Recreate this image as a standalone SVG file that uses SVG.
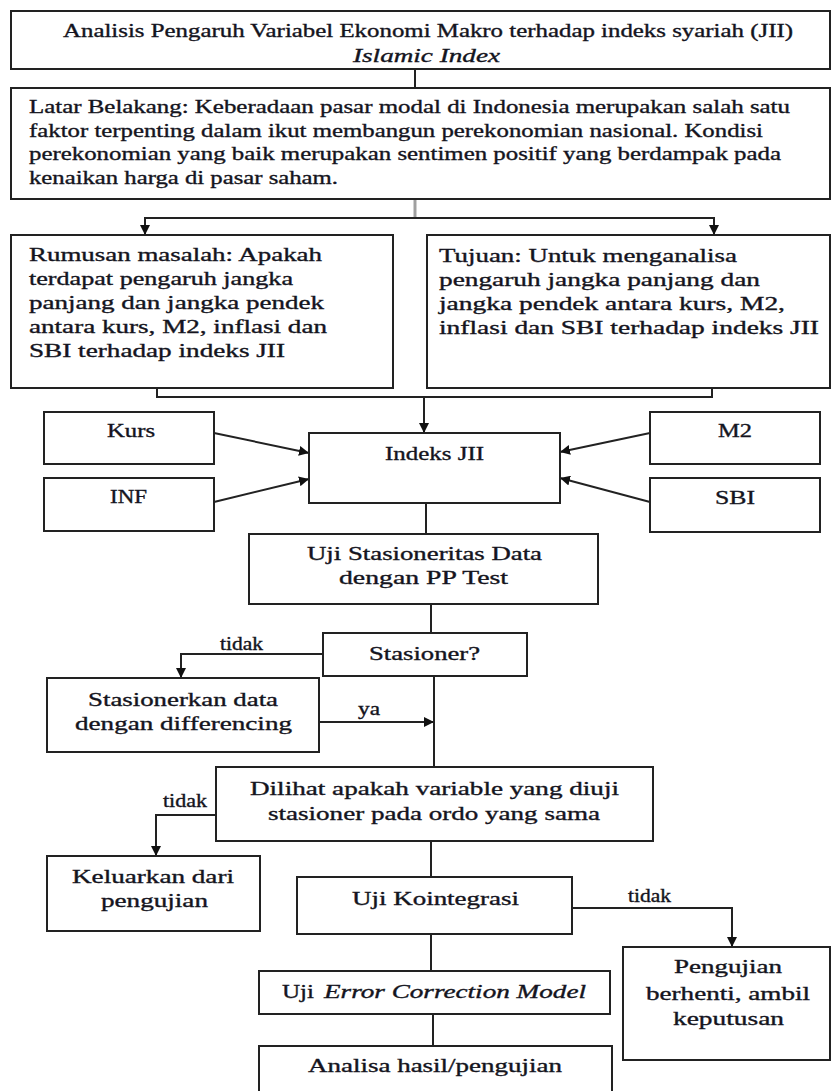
<svg xmlns="http://www.w3.org/2000/svg" width="832" height="1091" viewBox="0 0 832 1091">
<style>
.box{fill:#fff;stroke:#222;stroke-width:2}
.ln{fill:none;stroke:#222;stroke-width:2}
.gray{fill:none;stroke:#a0a0a0;stroke-width:3}
.t{font-family:"Liberation Serif","Times New Roman",serif;font-size:19px;fill:#141420;stroke:#141420;stroke-width:0.35}
.i{font-style:italic}
.s{font-size:18px}
</style>
<defs>
<marker id="ah" markerUnits="userSpaceOnUse" markerWidth="10" markerHeight="10" refX="10" refY="5" orient="auto" viewBox="0 0 10 10">
<path d="M0,0 L10,5 L0,10 z" fill="#111"/>
</marker>
</defs>
<rect width="832" height="1091" fill="#fff"/>
<g id="connectors">
<line class="ln" x1="415" y1="69" x2="415" y2="88"/>
<line class="gray" x1="415" y1="199" x2="415" y2="218"/>
<line class="ln" x1="145" y1="218" x2="714" y2="218"/>
<line class="ln" x1="145" y1="217" x2="145" y2="235" marker-end="url(#ah)"/>
<line class="ln" x1="714" y1="217" x2="714" y2="235" marker-end="url(#ah)"/>
<polyline class="ln" points="157,388 157,397 712,397 712,388"/>
<line class="ln" x1="424" y1="397" x2="424" y2="433" marker-end="url(#ah)"/>
<line class="ln" x1="214" y1="433" x2="309" y2="453" marker-end="url(#ah)"/>
<line class="ln" x1="214" y1="502" x2="309" y2="479" marker-end="url(#ah)"/>
<line class="ln" x1="650" y1="433" x2="560" y2="452" marker-end="url(#ah)"/>
<line class="ln" x1="650" y1="502" x2="560" y2="478" marker-end="url(#ah)"/>
<line class="ln" x1="426" y1="503" x2="426" y2="534"/>
<line class="ln" x1="431" y1="604" x2="431" y2="633"/>
<polyline class="ln" points="323,654 181,654 181,678" marker-end="url(#ah)"/>
<line class="ln" x1="319" y1="722" x2="434" y2="722" marker-end="url(#ah)"/>
<line class="ln" x1="434" y1="676" x2="434" y2="767"/>
<polyline class="ln" points="216,815 156,815 156,856" marker-end="url(#ah)"/>
<line class="ln" x1="431" y1="841" x2="431" y2="877"/>
<polyline class="ln" points="572,908 732,908 732,947" marker-end="url(#ah)"/>
<line class="ln" x1="431" y1="934" x2="431" y2="971"/>
<line class="ln" x1="433" y1="1014" x2="433" y2="1046"/>
<text class="t s" x="220" y="650" textLength="43" lengthAdjust="spacingAndGlyphs">tidak</text>
<text class="t s" x="358" y="715" textLength="22" lengthAdjust="spacingAndGlyphs">ya</text>
<text class="t s" x="163" y="807" textLength="44" lengthAdjust="spacingAndGlyphs">tidak</text>
<text class="t s" x="628" y="902" textLength="43" lengthAdjust="spacingAndGlyphs">tidak</text>
</g>
<g id="title">
<rect class="box" x="11" y="11" width="819" height="58"/>
<text class="t" x="63" y="37" textLength="730" lengthAdjust="spacingAndGlyphs">Analisis Pengaruh Variabel Ekonomi Makro terhadap indeks syariah (JII)</text>
<text class="t i" x="353" y="62" textLength="147" lengthAdjust="spacingAndGlyphs">Islamic Index</text>
</g>
<g id="latar">
<rect class="box" x="11" y="88" width="819" height="111"/>
<text class="t" x="29" y="113" textLength="761" lengthAdjust="spacingAndGlyphs">Latar Belakang: Keberadaan pasar modal di Indonesia merupakan salah satu</text>
<text class="t" x="29" y="136.5" textLength="734" lengthAdjust="spacingAndGlyphs">faktor terpenting dalam ikut membangun perekonomian nasional. Kondisi</text>
<text class="t" x="29" y="160" textLength="752" lengthAdjust="spacingAndGlyphs">perekonomian yang baik merupakan sentimen positif yang berdampak pada</text>
<text class="t" x="29" y="183.5" textLength="309" lengthAdjust="spacingAndGlyphs">kenaikan harga di pasar saham.</text>
</g>
<g id="rumusan">
<rect class="box" x="11" y="235" width="382" height="153"/>
<text class="t" x="29" y="261" textLength="293" lengthAdjust="spacingAndGlyphs">Rumusan masalah: Apakah</text>
<text class="t" x="29" y="285" textLength="264" lengthAdjust="spacingAndGlyphs">terdapat pengaruh jangka</text>
<text class="t" x="29" y="309" textLength="295" lengthAdjust="spacingAndGlyphs">panjang dan jangka pendek</text>
<text class="t" x="29" y="333" textLength="298" lengthAdjust="spacingAndGlyphs">antara kurs, M2, inflasi dan</text>
<text class="t" x="29" y="357" textLength="256" lengthAdjust="spacingAndGlyphs">SBI terhadap indeks JII</text>
</g>
<g id="tujuan">
<rect class="box" x="427" y="235" width="403" height="153"/>
<text class="t" x="439" y="262" textLength="298" lengthAdjust="spacingAndGlyphs">Tujuan: Untuk menganalisa</text>
<text class="t" x="439" y="286" textLength="321" lengthAdjust="spacingAndGlyphs">pengaruh jangka panjang dan</text>
<text class="t" x="439" y="310" textLength="346" lengthAdjust="spacingAndGlyphs">jangka pendek antara kurs, M2,</text>
<text class="t" x="439" y="334" textLength="380" lengthAdjust="spacingAndGlyphs">inflasi dan SBI terhadap indeks JII</text>
</g>
<g id="kurs">
<rect class="box" x="44" y="412" width="170" height="52"/>
<text class="t" x="107" y="437" textLength="48" lengthAdjust="spacingAndGlyphs">Kurs</text>
</g>
<g id="inf">
<rect class="box" x="44" y="478" width="170" height="53"/>
<text class="t" x="110" y="503" textLength="37" lengthAdjust="spacingAndGlyphs">INF</text>
</g>
<g id="m2">
<rect class="box" x="650" y="412" width="170" height="52"/>
<text class="t" x="718" y="437" textLength="34" lengthAdjust="spacingAndGlyphs">M2</text>
</g>
<g id="sbi">
<rect class="box" x="650" y="478" width="170" height="54"/>
<text class="t" x="715" y="504" textLength="40" lengthAdjust="spacingAndGlyphs">SBI</text>
</g>
<g id="indeks">
<rect class="box" x="309" y="433" width="251" height="70"/>
<text class="t" x="385" y="460" textLength="99" lengthAdjust="spacingAndGlyphs">Indeks JII</text>
</g>
<g id="uji-stasioneritas">
<rect class="box" x="249" y="534" width="349" height="70"/>
<text class="t" x="307" y="560" textLength="235" lengthAdjust="spacingAndGlyphs">Uji Stasioneritas Data</text>
<text class="t" x="339" y="584" textLength="169" lengthAdjust="spacingAndGlyphs">dengan PP Test</text>
</g>
<g id="stasioner">
<rect class="box" x="323" y="633" width="204" height="43"/>
<text class="t" x="369" y="660" textLength="111" lengthAdjust="spacingAndGlyphs">Stasioner?</text>
</g>
<g id="stasionerkan">
<rect class="box" x="47" y="678" width="272" height="74"/>
<text class="t" x="88" y="706" textLength="190" lengthAdjust="spacingAndGlyphs">Stasionerkan data</text>
<text class="t" x="75" y="730" textLength="217" lengthAdjust="spacingAndGlyphs">dengan differencing</text>
</g>
<g id="dilihat">
<rect class="box" x="216" y="767" width="437" height="74"/>
<text class="t" x="250" y="795" textLength="369" lengthAdjust="spacingAndGlyphs">Dilihat apakah variable yang diuji</text>
<text class="t" x="268" y="820" textLength="332" lengthAdjust="spacingAndGlyphs">stasioner pada ordo yang sama</text>
</g>
<g id="keluarkan">
<rect class="box" x="47" y="856" width="213" height="75"/>
<text class="t" x="72" y="883" textLength="162" lengthAdjust="spacingAndGlyphs">Keluarkan dari</text>
<text class="t" x="101" y="907" textLength="107" lengthAdjust="spacingAndGlyphs">pengujian</text>
</g>
<g id="kointegrasi">
<rect class="box" x="297" y="877" width="275" height="57"/>
<text class="t" x="352" y="905" textLength="167" lengthAdjust="spacingAndGlyphs">Uji Kointegrasi</text>
</g>
<g id="pengujian-berhenti">
<rect class="box" x="623" y="947" width="207" height="113"/>
<text class="t" x="674" y="973" textLength="108" lengthAdjust="spacingAndGlyphs">Pengujian</text>
<text class="t" x="646" y="1000" textLength="164" lengthAdjust="spacingAndGlyphs">berhenti, ambil</text>
<text class="t" x="673" y="1025" textLength="111" lengthAdjust="spacingAndGlyphs">keputusan</text>
</g>
<g id="ecm">
<rect class="box" x="259" y="971" width="351" height="43"/>
<text class="t" x="282" y="998" textLength="32" lengthAdjust="spacingAndGlyphs">Uji</text>
<text class="t i" x="324" y="998" textLength="262" lengthAdjust="spacingAndGlyphs">Error Correction Model</text>
</g>
<g id="analisa">
<rect class="box" x="259" y="1046" width="353" height="60"/>
<text class="t" x="308" y="1072" textLength="254" lengthAdjust="spacingAndGlyphs">Analisa hasil/pengujian</text>
</g>
</svg>
